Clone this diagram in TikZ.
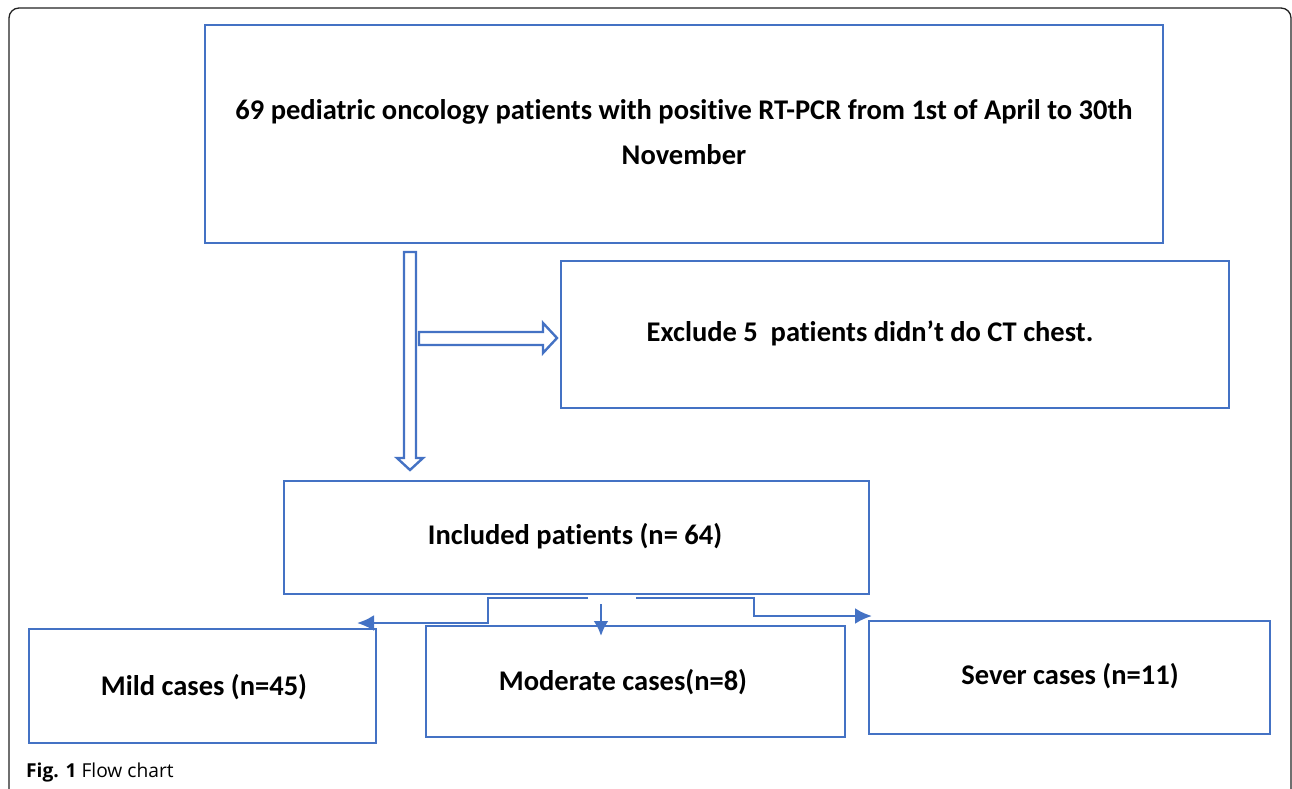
\documentclass[tikz,border=0pt]{standalone}
\usepackage{fontspec}
\usetikzlibrary{arrows.meta}
\setmainfont{Carlito}[Ligatures={NoCommon}]
\newfontfamily\capfont{Open Sans}
\definecolor{boxblue}{HTML}{4472C4}
\definecolor{framegray}{HTML}{222222}
\begin{document}
\begin{tikzpicture}[x=1pt,y=-1pt,
  box/.style={draw=boxblue, line width=2.8pt},
  lbl/.style={font=\fontsize{28.5}{45}\selectfont\bfseries, align=center, inner sep=0pt},
  conn/.style={draw=boxblue, line width=2.8pt},
  tip/.style={-{Latex[length=17pt,width=16pt]}},
  blockarrow/.style={draw=boxblue, line width=2.4pt, line join=miter, fill=white}]
\useasboundingbox (0,0) rectangle (1292,789);
% outer frame
\draw[framegray, line width=1.3pt, rounded corners=10pt] (9,789) -- (9,8) -- (1291,8) -- (1291,789);
% boxes
\draw[box] (205,25) rectangle (1163,243);
\node[lbl] (toptext) at (684,132) {69 pediatric oncology patients with positive RT-PCR from 1st of April to 30th\\November};
\draw[box] (561,261) rectangle (1229,408);
\node[lbl] (exctext) at (870,333) {Exclude 5\ \ patients didn’t do CT chest.};
\draw[box] (284,481) rectangle (869,594);
\node[lbl] (inctext) at (575,536) {Included patients (n= 64)};
\draw[box] (29,629) rectangle (376,743);
\node[lbl] (mildtext) at (204,687) {Mild cases (n=45)};
\draw[box] (426,626) rectangle (845,737);
\node[lbl] (modtext) at (623,682) {Moderate cases(n=8)};
\draw[box] (869,621) rectangle (1270,734);
\node[lbl] (sevtext) at (1070,676) {Sever cases (n=11)};
% block arrows
\draw[blockarrow] (404,252) -- (416,252) -- (416,458) -- (423,458) -- (410,470) -- (397,458) -- (404,458) -- cycle;
\draw[blockarrow] (419,332) -- (543,332) -- (543,323) -- (557,338) -- (543,353) -- (543,345) -- (419,345) -- cycle;
% bottom connectors
\coordinate (lstart) at (588,598);
\coordinate (lend) at (357,623);
\coordinate (rstart) at (636,598);
\coordinate (rend) at (872,616);
\coordinate (mstart) at (601,604);
\coordinate (mend) at (601,636);
\draw[conn, tip] (lstart) -- (488,598) -- (488,623) -- (lend);
\draw[conn, tip] (rstart) -- (754,598) -- (754,616) -- (rend);
\draw[conn, -{Latex[length=15pt,width=15pt]}] (mstart) -- (mend);
% caption
\node[anchor=base west, inner sep=0pt, font=\capfont\fontsize{19.2}{21}\selectfont] (caption) at (26,777) {\textbf{Fig. 1} Flow chart};
\end{tikzpicture}
\end{document}
